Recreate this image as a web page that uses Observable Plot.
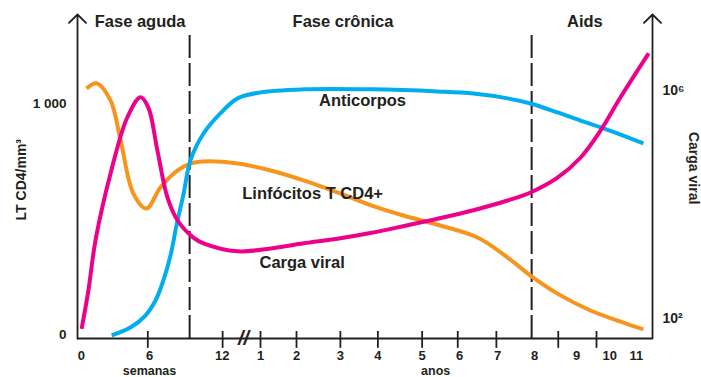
<!DOCTYPE html>
<html>
<head>
<meta charset="utf-8">
<script src="https://cdn.jsdelivr.net/npm/d3@7"></script>
<script src="https://cdn.jsdelivr.net/npm/@observablehq/plot@0.6"></script>
<style>
  html, body { margin: 0; padding: 0; background: #fff; }
  #chart { width: 701px; height: 377px; overflow: hidden; }
</style>
</head>
<body>
<div id="chart"></div>
<script>
// Horizontal position uses one continuous axis unit (≈ one year per unit);
// the first part of the axis is in weeks, the rest in years.
const tickLabels = ["0", "6", "12", "1", "2", "3", "4", "5", "6", "7", "8", "9", "10", "11"];
const tickLabelAt = [0.1, 1.92, 3.86, 4.88, 5.84, 7.01, 8.01, 9.19, 10.19, 11.2, 12.19, 13.31, 14.19, 14.9];
const tickMarkAt = [1.875, 3.87, 4.88, 5.84, 7.01, 8.01, 9.19, 10.14, 11.17, 12.82, 13.84];
const phaseBoundaries = [2.99, 12.11];
const phaseNames = ["Fase aguda", "Fase crônica", "Aids"];
const phaseCenters = [1.67, 7.08, 13.53];

// LT CD4 (cells/mm3)
const cd4T = [0.24, 0.51, 0.88, 1.15, 1.49, 1.84, 2.21, 2.67, 3.01, 3.36, 4.27, 5.15, 6.03, 6.93, 7.81, 8.69, 9.6, 10.67, 11.47, 12.08, 12.8, 13.68, 14.48, 15.09];
const cd4V = [1065, 1087, 1013, 840, 610, 545, 636, 710, 740, 749, 740, 710, 667, 615, 560, 515, 475, 420, 333, 255, 177, 104, 56, 22];

// Carga viral (log10 copies)
const viralT = [0.11, 0.29, 0.48, 0.88, 1.33, 1.68, 1.89, 2.13, 2.4, 2.67, 3.09, 3.36, 4.27, 5.15, 6.03, 6.93, 7.81, 8.69, 9.6, 10.56, 11.47, 12.08, 12.8, 13.41, 13.95, 14.48, 15.23];
const viralLog = [1.82, 2.49, 3.37, 4.54, 5.53, 5.88, 5.70, 4.95, 4.12, 3.72, 3.42, 3.32, 3.18, 3.23, 3.32, 3.40, 3.50, 3.62, 3.75, 3.90, 4.07, 4.21, 4.47, 4.82, 5.30, 5.88, 6.65];
const viralTicks = [2, 6];
const viralTickLabels = ["10²", "10⁶"];

// Anticorpos (relative level, on the CD4 scale)
const abT = [0.91, 1.41, 1.81, 2.08, 2.29, 2.48, 2.64, 2.83, 3.01, 3.36, 3.81, 4.27, 4.88, 6.03, 7.81, 9.6, 10.56, 11.47, 12.08, 12.8, 13.41, 14.03, 15.09];
const abV = [-4, 30, 82, 147, 234, 342, 472, 610, 753, 870, 957, 1022, 1048, 1061, 1061, 1052, 1043, 1022, 1000, 961, 926, 892, 827];

const cd4Ticks = [0, 1000];
const cd4TickLabels = ["0", "1 000"];

// right axis (log10 viral load) mapped onto the left scale
const viralToLeft = l => 69 + (l - 2) * 246.8;

const xMin = 0, xMax = 15.333;
const yMin = -17.3, yMax = 1385;
const ink = "#231F20";
const font = "Liberation Sans, Arial, sans-serif";

const cd4 = cd4T.map((t, i) => ({t, v: cd4V[i]}));
const viral = viralT.map((t, i) => ({t, v: viralToLeft(viralLog[i])}));
const ab = abT.map((t, i) => ({t, v: abV[i]}));
const ticks = tickLabels.map((label, i) => ({label, t: tickLabelAt[i]}));

const chart = Plot.plot({
  width: 701,
  height: 377,
  marginLeft: 77,
  marginRight: 49,
  marginTop: 14,
  marginBottom: 39,
  style: {fontFamily: font, background: "#fff", overflow: "visible"},
  x: {domain: [xMin, xMax], axis: null},
  y: {domain: [yMin, yMax], axis: null},
  marks: [
    // phase boundaries
    Plot.ruleX(phaseBoundaries, {y1: yMin, y2: 1303, stroke: ink, strokeWidth: 2, strokeDasharray: "23,5"}),
    // x axis
    Plot.ruleY([yMin], {x1: () => xMin, x2: () => xMax, stroke: ink, strokeWidth: 1.8}),
    Plot.ruleX(tickMarkAt, {y1: -60, y2: 13, stroke: ink, strokeWidth: 1.8}),
    Plot.text(["//"], {x: () => 4.43, y: () => yMin, fontSize: 20, fontWeight: "bold", fill: ink, fontStyle: "italic"}),
    // vertical axes with arrows
    Plot.arrow([xMin, xMax], {x1: d => d, x2: d => d, y1: () => yMin, y2: () => yMax, stroke: ink, strokeWidth: 1.8, headAngle: 90, headLength: 10}),
    // curves
    Plot.line(cd4, {x: "t", y: "v", stroke: "#F7941E", strokeWidth: 4, curve: "catmull-rom", strokeLinecap: "butt"}),
    Plot.line(ab, {x: "t", y: "v", stroke: "#00AEEF", strokeWidth: 4, curve: "catmull-rom", strokeLinecap: "butt"}),
    Plot.line(viral, {x: "t", y: "v", stroke: "#EC008C", strokeWidth: 4, curve: "catmull-rom", strokeLinecap: "butt"}),
    // x tick labels
    Plot.text(ticks, {x: "t", y: () => -93, text: "label", fontSize: 13, fontWeight: "bold", fill: ink}),
    Plot.text(["semanas"], {x: () => 1.92, y: () => -159, fontSize: 12.5, fontWeight: "bold", fill: ink}),
    Plot.text(["anos"], {x: () => 9.55, y: () => -159, fontSize: 12.5, fontWeight: "bold", fill: ink}),
    // left axis labels
    Plot.text(cd4Ticks, {x: () => -0.29, y: d => d, text: (d, i) => cd4TickLabels[i], textAnchor: "end", fontSize: 13.5, fontWeight: "bold", fill: ink}),
    Plot.text(["LT CD4/mm³"], {x: () => -1.48, y: () => 670, rotate: -90, fontSize: 14, fontWeight: "bold", fill: ink}),
    // right axis labels
    Plot.text(viralTicks, {x: () => 15.6, y: d => viralToLeft(d), text: (d, i) => viralTickLabels[i], textAnchor: "start", fontSize: 14, fontWeight: "bold", fill: ink}),
    Plot.text(["Carga viral"], {x: () => 16.43, y: () => 720, rotate: 90, fontSize: 14, fontWeight: "bold", fill: ink}),
    // phase names
    Plot.text(phaseNames, {x: (d, i) => phaseCenters[i], y: () => 1355, fontSize: 16.5, fontWeight: "bold", fill: ink}),
    // curve labels
    Plot.text(["Anticorpos"], {x: () => 7.6, y: () => 1013, fontSize: 16.5, fontWeight: "bold", fill: ink}),
    Plot.text(["Linfócitos T CD4+"], {x: () => 6.27, y: () => 610, fontSize: 16.5, fontWeight: "bold", fill: ink}),
    Plot.text(["Carga viral"], {x: () => 5.99, y: () => 312, fontSize: 16.5, fontWeight: "bold", fill: ink})
  ]
});
document.getElementById("chart").appendChild(chart);
</script>
</body>
</html>
